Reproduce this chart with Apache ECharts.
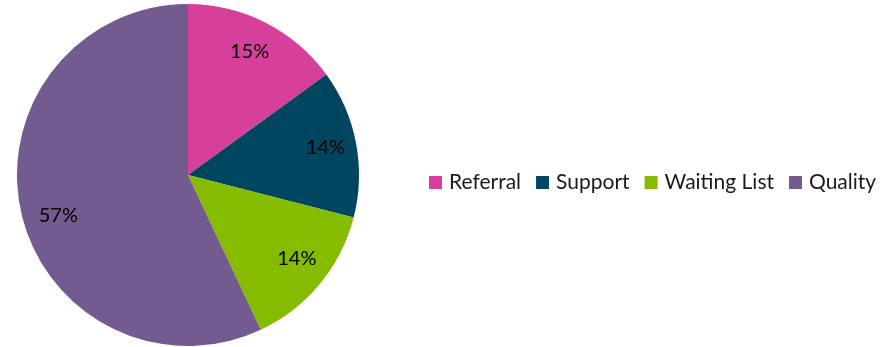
<!DOCTYPE html>
<html>
<head>
<meta charset="utf-8">
<script src="https://cdn.jsdelivr.net/npm/echarts@6/dist/echarts.min.js"></script>
<style>
  html, body { margin: 0; padding: 0; background: #ffffff; }
  #chart { width: 893px; height: 347px; }
</style>
</head>
<body>
<div id="chart"></div>
<script>
// Share of items by category
const categories = ['Referral', 'Support', 'Waiting List', 'Quality'];
const shares = [15, 14, 14, 57];
const colors = ['#D6409A', '#004660', '#86BC00', '#735A8F'];
// small nudges for the percentage labels
const labelOffsets = [[-2, 1], [0, -1], [1, -6], [7, 10]];

const pieData = categories.map((name, i) => ({
  name: name,
  value: shares[i],
  itemStyle: { color: colors[i] }
}));

const FONT = 'Lato, "Noto Sans", sans-serif';
const center = [188, 175];

const chart = echarts.init(document.getElementById('chart'));
chart.setOption({
  animation: false,
  legend: {
    data: categories,
    left: 424,
    top: 167,
    orient: 'horizontal',
    icon: 'rect',
    itemWidth: 13,
    itemHeight: 13,
    itemGap: 15,
    textStyle: { fontFamily: FONT, fontSize: 21, color: '#1a1a1a', padding: [0, 0, 0, 2] }
  },
  series: [
    {
      // slices
      type: 'pie',
      center: center,
      radius: [0, 171],
      startAngle: 90,
      clockwise: true,
      data: pieData,
      label: { show: false },
      labelLine: { show: false },
      itemStyle: { borderWidth: 0 },
      emphasis: { disabled: true }
    },
    {
      // percentage labels placed toward the outer rim
      type: 'pie',
      center: center,
      radius: [103, 171],
      startAngle: 90,
      clockwise: true,
      silent: true,
      legendHoverLink: false,
      data: pieData.map((d, i) => ({
        name: d.name,
        value: d.value,
        itemStyle: { color: 'rgba(0,0,0,0)' },
        label: { offset: labelOffsets[i] }
      })),
      label: {
        show: true,
        position: 'inside',
        formatter: p => p.value + '%',
        fontFamily: FONT,
        fontSize: 20,
        color: '#000000'
      },
      labelLine: { show: false },
      itemStyle: { borderWidth: 0 },
      emphasis: { disabled: true }
    }
  ]
});
</script>
</body>
</html>
